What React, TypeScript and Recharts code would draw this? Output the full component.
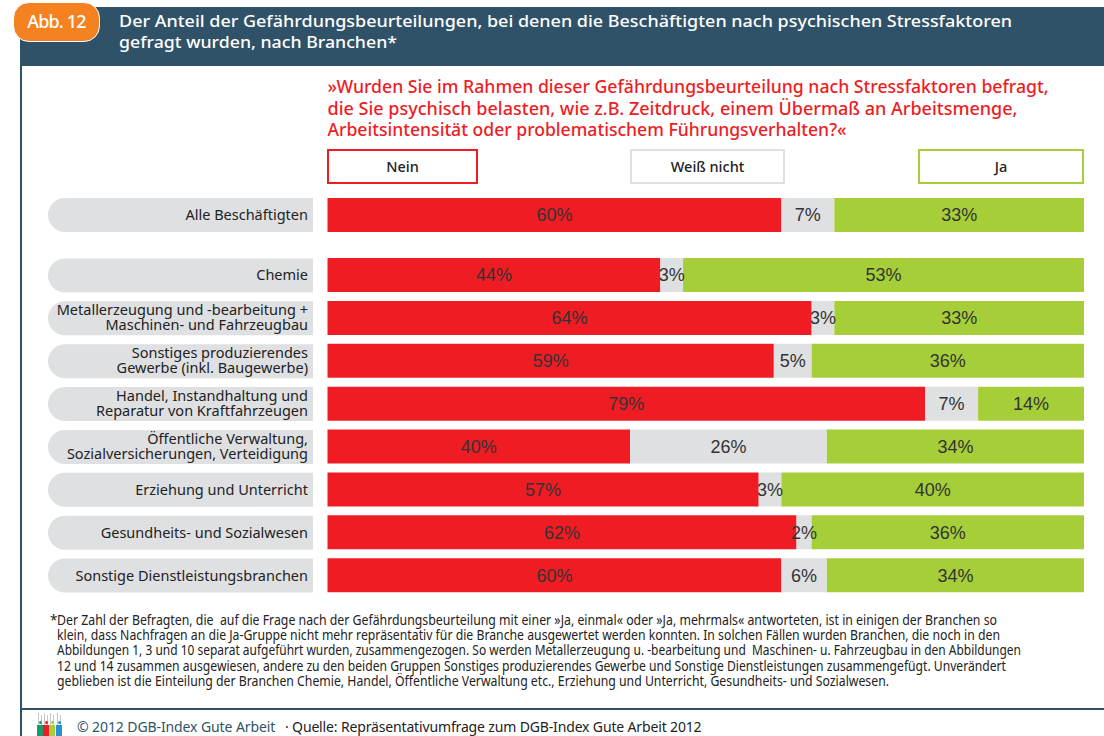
import React from "react";
import { BarChart, Bar, XAxis, YAxis, LabelList } from "recharts";

const topCategories = ["Alle Beschäftigten"];
const topNein = [60];
const topWeiss = [7];
const topJa = [33];

const categories = [
  "Chemie",
  "Metallerzeugung und -bearbeitung +\nMaschinen- und Fahrzeugbau",
  "Sonstiges produzierendes\nGewerbe (inkl. Baugewerbe)",
  "Handel, Instandhaltung und\nReparatur von Kraftfahrzeugen",
  "Öffentliche Verwaltung,\nSozialversicherungen, Verteidigung",
  "Erziehung und Unterricht",
  "Gesundheits- und Sozialwesen",
  "Sonstige Dienstleistungsbranchen",
];
const nein = [44, 64, 59, 79, 40, 57, 62, 60];
const weiss = [3, 3, 5, 7, 26, 3, 2, 6];
const ja = [53, 33, 36, 14, 34, 40, 36, 34];

const titleLines = [
  "Der Anteil der Gefährdungsbeurteilungen, bei denen die Beschäftigten nach psychischen Stressfaktoren",
  "gefragt wurden, nach Branchen*",
];
const questionLines = [
  "»Wurden Sie im Rahmen dieser Gefährdungsbeurteilung nach Stressfaktoren befragt,",
  "die Sie psychisch belasten, wie z.B. Zeitdruck, einem Übermaß an Arbeitsmenge,",
  "Arbeitsintensität oder problematischem Führungsverhalten?«",
];
const footnoteLines = [
  "Der Zahl der Befragten, die  auf die Frage nach der Gefährdungsbeurteilung mit einer »Ja, einmal« oder »Ja, mehrmals« antworteten, ist in einigen der Branchen so",
  "klein, dass Nachfragen an die Ja-Gruppe nicht mehr repräsentativ für die Branche ausgewertet werden konnten. In solchen Fällen wurden Branchen, die noch in den",
  "Abbildungen 1, 3 und 10 separat aufgeführt wurden, zusammengezogen. So werden Metallerzeugung u. -bearbeitung und  Maschinen- u. Fahrzeugbau in den Abbildungen",
  "12 und 14 zusammen ausgewiesen, andere zu den beiden Gruppen Sonstiges produzierendes Gewerbe und Sonstige Dienstleistungen zusammengefügt. Unverändert",
  "geblieben ist die Einteilung der Branchen Chemie, Handel, Öffentliche Verwaltung etc., Erziehung und Unterricht, Gesundheits- und Sozialwesen.",
];

const titleWidths = [893, 278];
const questionWidths = [721, 690, 519];
const footnoteWidths = [940, 943, 964, 949, 832];

const RED = "#ef1c24";
const GREY = "#dfe0e2";
const GREEN = "#a6ce39";
const NAVY = "#2f5268";
const UI_FONT = "'Noto Sans', sans-serif";

const toRows = (c: string[], n: number[], w: number[], j: number[]) =>
  c.map((name, i) => ({ name, nein: n[i], weiss: w[i], ja: j[i] }));

const PillTick = (props: any) => {
  const { y, payload } = props;
  const lines: string[] = String(payload.value).split("\n");
  const h = 34;
  const right = 313;
  const left = 48;
  const top = y - h / 2;
  const r = h / 2;
  const d = `M${right} ${top}H${left + r}A${r} ${r} 0 0 0 ${left + r} ${top + h}H${right}Z`;
  return (
    <g>
      <path d={d} fill={GREY} />
      {lines.map((l, i) => (
        <text
          key={i}
          x={308}
          y={y + (lines.length === 1 ? 5 : 4.5) + (i - (lines.length - 1) / 2) * 15}
          textAnchor="end"
          fontFamily={UI_FONT}
          fontSize={14.5}
          fill="#222"
        >
          {l}
        </text>
      ))}
    </g>
  );
};

const pct = (v: any) => `${v}%`;

const Stack = ({ rows, height, top }: { rows: any[]; height: number; top: number }) => (
  <div style={{ position: "absolute", left: 0, top }}>
    <BarChart
      width={1104}
      height={height}
      data={rows}
      layout="vertical"
      barCategoryGap={0}
      margin={{ top: 0, right: 20, bottom: 0, left: 20 }}
    >
      <XAxis type="number" domain={[0, 100]} hide />
      <YAxis
        type="category"
        dataKey="name"
        width={307.5}
        axisLine={false}
        tickLine={false}
        tick={<PillTick />}
        interval={0}
        tickMargin={0}
      />
      {(
        [
          ["nein", RED],
          ["weiss", GREY],
          ["ja", GREEN],
        ] as [string, string][]
      ).map(([key, fill]) => (
        <Bar key={key} dataKey={key} stackId="s" fill={fill} barSize={34} isAnimationActive={false}>
          <LabelList
            dataKey={key}
            position="center"
            formatter={pct}
            fill="#333"
            fontSize={18}
            fontFamily="'Liberation Sans', Arial, sans-serif"
          />
        </Bar>
      ))}
    </BarChart>
  </div>
);

const LegendBox = ({ left, width, color, label }: { left: number; width: number; color: string; label: string }) => (
  <div
    style={{
      position: "absolute",
      left,
      top: 149,
      width,
      height: 35,
      boxSizing: "border-box",
      border: `2px solid ${color}`,
      background: "#fff",
      textAlign: "center",
      lineHeight: "31px",
      fontFamily: UI_FONT,
      fontWeight: 500,
      fontSize: 14.5,
      color: "#222",
    }}
  >
    {label}
  </div>
);

const FitLines = ({
  lines,
  widths,
  x,
  y,
  step,
  size,
  fill,
  weight = 400,
}: {
  lines: string[];
  widths: number[];
  x: number;
  y: number;
  step: number;
  size: number;
  fill: string;
  weight?: number;
}) => (
  <svg width={1104} height={736} style={{ position: "absolute", left: 0, top: 0, pointerEvents: "none" }}>
    {lines.map((l, i) => (
      <text
        key={i}
        x={x}
        y={y + i * step}
        textLength={widths[i]}
        lengthAdjust="spacingAndGlyphs"
        fontFamily={UI_FONT}
        fontSize={size}
        fontWeight={weight}
        fill={fill}
        xmlSpace="preserve"
      >
        {l}
      </text>
    ))}
  </svg>
);

const logoPeople: [number, string][] = [
  [37, "#1a9a6a"],
  [43, "#ef1c24"],
  [49, "#a6ce39"],
  [56, "#2a8fd0"],
];

export default function App() {
  return (
    <div style={{ position: "absolute", left: 0, top: 0, width: 1104, height: 736, background: "#fff", overflow: "hidden" }}>
      <div style={{ position: "absolute", left: 20, top: 7, width: 1084, height: 59, background: NAVY }} />
      <div style={{ position: "absolute", left: 20, top: 66, width: 2, height: 670, background: NAVY }} />
      <div style={{ position: "absolute", left: 20, top: 708, width: 1084, height: 2, background: NAVY }} />
      <div
        style={{
          position: "absolute",
          left: 13,
          top: 2,
          width: 87,
          height: 40,
          boxSizing: "border-box",
          borderRadius: 16,
          background: "#f58220",
          border: "1.5px solid #fff",
          color: "#fff",
          fontFamily: UI_FONT,
          fontSize: 18,
          fontWeight: 500,
          lineHeight: "36px",
          textAlign: "center",
          letterSpacing: -0.8,
        }}
      >
        Abb. 12
      </div>
      <FitLines lines={titleLines} widths={titleWidths} x={119} y={27} step={21} size={16.5} fill="#fff" weight={500} />
      <FitLines lines={questionLines} widths={questionWidths} x={327.5} y={93} step={21.5} size={17.65} fill={RED} weight={500} />

      <LegendBox left={327} width={151} color={RED} label="Nein" />
      <LegendBox left={630} width={155} color={GREY} label="Weiß nicht" />
      <LegendBox left={918} width={166} color={GREEN} label="Ja" />

      <Stack rows={toRows(topCategories, topNein, topWeiss, topJa)} height={36} top={197} />
      <Stack rows={toRows(categories, nein, weiss, ja)} height={343} top={254} />

      <svg width={1104} height={736} style={{ position: "absolute", left: 0, top: 0, pointerEvents: "none" }}>
        <text x={50} y={625} fontFamily={UI_FONT} fontSize={13.5} fill="#222">*</text>
      </svg>
      <FitLines lines={footnoteLines} widths={footnoteWidths} x={57} y={625} step={15.2} size={13.5} fill="#222" />

      {logoPeople.map(([x, c]) => (
        <React.Fragment key={x}>
          <div style={{ position: "absolute", left: x + 1, top: 713, width: 1, height: 12, background: "#c4c8cc" }} />
          <div style={{ position: "absolute", left: x + 4, top: 715, width: 1, height: 10, background: "#c4c8cc" }} />
          <div style={{ position: "absolute", left: x + 2, top: 721, width: 3, height: 3, borderRadius: 2, background: c }} />
          <div style={{ position: "absolute", left: x, top: 725, width: 6, height: 11, background: c }} />
        </React.Fragment>
      ))}

      <div style={{ position: "absolute", left: 77, top: 717, color: NAVY, fontFamily: UI_FONT, fontSize: 14, whiteSpace: "pre", lineHeight: "20px", letterSpacing: -0.1 }}>
        © 2012 DGB-Index Gute Arbeit
      </div>
      <div style={{ position: "absolute", left: 285, top: 717, color: "#222", fontFamily: UI_FONT, fontSize: 14, whiteSpace: "pre", lineHeight: "20px", letterSpacing: -0.15 }}>
        · Quelle: Repräsentativumfrage zum DGB-Index Gute Arbeit 2012
      </div>
    </div>
  );
}
